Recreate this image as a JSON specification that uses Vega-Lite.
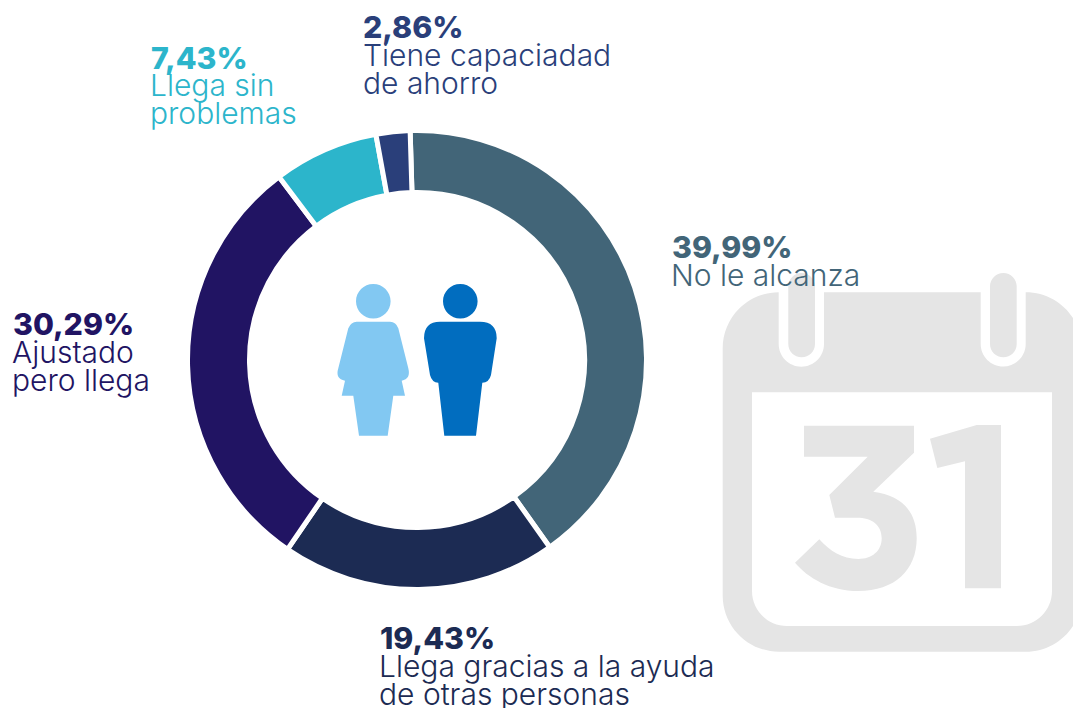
{
"$schema":"https://vega.github.io/schema/vega-lite/v6.json",
"width":1073,"height":708,"padding":0,"autosize":{"type":"none"},"background":"white",
"config":{"view":{"stroke":null},"text":{"font":"Inter","align":"left","baseline":"alphabetic","lineHeight":28,"lineBreak":"|"}},
"data":{"values":[
{"categoria":"No le alcanza","orden":1,"pct":39.99,"pct_texto":"39,99%","texto":"No le alcanza"},
{"categoria":"Llega gracias","orden":2,"pct":19.43,"pct_texto":"19,43%","texto":"Llega gracias a la ayuda|de otras personas"},
{"categoria":"Ajustado","orden":3,"pct":30.29,"pct_texto":"30,29%","texto":"Ajustado|pero llega"},
{"categoria":"Llega sin","orden":4,"pct":7.43,"pct_texto":"7,43%","texto":"Llega sin|problemas"},
{"categoria":"Tiene","orden":5,"pct":2.86,"pct_texto":"2,86%","texto":"Tiene capaciadad|de ahorro"}
]},
"encoding":{"color":{"field":"categoria","type":"nominal","legend":null,"scale":{"domain":["No le alcanza","Llega gracias","Ajustado","Llega sin","Tiene"],"range":["#426578","#1C2B53","#211463","#2CB5CB","#2A3F7A"]}}},
"layer":[
{"data":{"values":[{"icono":"calendario"}]},
 "mark":{"type":"point","filled":true,"opacity":1,"size":4,"clip":true,"shape":"M -121.3 -167.7 L -121.3 -116 A 22.65 22.65 0 0 0 -76 -116 L -76 -167.7 L 80.7 -167.7 L 80.7 -116 A 22.5 22.5 0 0 0 125.7 -116 L 125.7 -167.7 A 56.3 56.3 0 0 1 182 -111.4 L 182 135.4 A 56.3 56.3 0 0 1 125.7 191.7 L -121 191.7 A 56.3 56.3 0 0 1 -177.3 135.4 L -177.3 -111.4 A 56 56 0 0 1 -121.3 -167.7 Z M -148 -67.7 L -148 131 A 35 35 0 0 0 -113 166 L 117 166 A 35 35 0 0 0 152 131 L 152 -67.7 Z M -96 -34.3 L 14 -34.3 L 14 -7.3 L -26.7 31.7 C 0 35 16.7 50 16.7 78.3 C 16.7 110 -5 131 -41.7 131 C -70 131 -92 118 -105 102.7 L -80.7 79.3 C -70 91 -58 99 -41.7 99 C -28 99 -18.3 91 -18.3 78.3 C -18.3 65 -28 57.7 -43.3 57.7 L -65 57.7 L -70.7 35 L -32.3 -3.3 L -96 -3.3 Z M 30 -21.3 L 76.7 -35 L 101 -35 L 101 128.3 L 65 128.3 L 65 1.3 L 37.3 8 Z M -111.7 -173.7 A 13.35 13.35 0 0 1 -85 -173.7 L -85 -116 A 13.35 13.35 0 0 1 -111.7 -116 Z M 90 -173.7 A 13.35 13.35 0 0 1 116.7 -173.7 L 116.7 -116 A 13.35 13.35 0 0 1 90 -116 Z"},
 "encoding":{"x":{"datum":900,"type":"quantitative","scale":{"domain":[0,1073],"nice":false},"axis":null},"y":{"datum":460,"type":"quantitative","scale":{"domain":[708,0],"nice":false},"axis":null},"color":{"value":"#E5E5E5"}}},
{"mark":{"type":"arc","outerRadius":229.5,"innerRadius":167.5,"stroke":"white","strokeWidth":5},
 "encoding":{"theta":{"field":"pct","type":"quantitative","stack":true,"scale":{"domain":[0,39.99,97.14,100],"range":[-0.03,2.525,6.103,6.2532]}},"order":{"field":"orden","type":"quantitative"},"x":{"datum":417,"type":"quantitative"},"y":{"datum":360,"type":"quantitative"}}},
{"data":{"values":[{"icono":"mujer"}]},
 "mark":{"type":"point","filled":true,"opacity":1,"size":4,"shape":"M -17 -68.7 A 17.3 17.3 0 1 1 17.6 -68.7 A 17.3 17.3 0 1 1 -17 -68.7 Z M -16.3 -48.3 L 17 -48.3 Q 23 -48.3 25.3 -41.7 L 35.3 -1.7 Q 38 9 28.7 10.7 L 32 25.7 L 20.3 25.7 L 14.7 65.7 L -14 65.7 L -19.7 25.7 L -31.3 25.7 L -28 10.7 Q -38 9 -34.7 -1.7 L -24.7 -41.7 Q -22 -48.3 -16.3 -48.3 Z"},
 "encoding":{"x":{"datum":373,"type":"quantitative"},"y":{"datum":370,"type":"quantitative"},"color":{"value":"#82C8F2"}}},
{"data":{"values":[{"icono":"hombre"}]},
 "mark":{"type":"point","filled":true,"opacity":1,"size":4,"shape":"M -18 -68.7 A 17.3 17.3 0 1 1 16.6 -68.7 A 17.3 17.3 0 1 1 -18 -68.7 Z M -21 -48.3 L 19 -48.3 Q 35.7 -48.3 35.7 -31.7 L 30 5 Q 28 12.7 21.3 12.7 L 15 65.7 L -16.7 65.7 L -22.7 12.7 Q -29 12.7 -31 5 L -37 -31.7 Q -37 -48.3 -21 -48.3 Z"},
 "encoding":{"x":{"datum":461,"type":"quantitative"},"y":{"datum":370,"type":"quantitative"},"color":{"value":"#016DBF"}}},
{"transform":[{"filter":"datum.orden==1"}],"mark":{"type":"text","fontSize":30.3,"fontWeight":800},"encoding":{"text":{"field":"pct_texto"},"x":{"datum":672,"type":"quantitative"},"y":{"datum":258,"type":"quantitative"}}},
{"transform":[{"filter":"datum.orden==1"}],"mark":{"type":"text","fontSize":30,"fontWeight":300},"encoding":{"text":{"field":"texto"},"x":{"datum":671,"type":"quantitative"},"y":{"datum":286,"type":"quantitative"}}},
{"transform":[{"filter":"datum.orden==2"}],"mark":{"type":"text","fontSize":30.3,"fontWeight":800},"encoding":{"text":{"field":"pct_texto"},"x":{"datum":380,"type":"quantitative"},"y":{"datum":649,"type":"quantitative"}}},
{"transform":[{"filter":"datum.orden==2"}],"mark":{"type":"text","fontSize":30,"fontWeight":300},"encoding":{"text":{"field":"texto"},"x":{"datum":379,"type":"quantitative"},"y":{"datum":677,"type":"quantitative"}}},
{"transform":[{"filter":"datum.orden==3"}],"mark":{"type":"text","fontSize":30.3,"fontWeight":800},"encoding":{"text":{"field":"pct_texto"},"x":{"datum":13,"type":"quantitative"},"y":{"datum":335,"type":"quantitative"}}},
{"transform":[{"filter":"datum.orden==3"}],"mark":{"type":"text","fontSize":30,"fontWeight":300},"encoding":{"text":{"field":"texto"},"x":{"datum":12,"type":"quantitative"},"y":{"datum":363,"type":"quantitative"}}},
{"transform":[{"filter":"datum.orden==4"}],"mark":{"type":"text","fontSize":30.3,"fontWeight":800},"encoding":{"text":{"field":"pct_texto"},"x":{"datum":151,"type":"quantitative"},"y":{"datum":69,"type":"quantitative"}}},
{"transform":[{"filter":"datum.orden==4"}],"mark":{"type":"text","fontSize":30,"fontWeight":300},"encoding":{"text":{"field":"texto"},"x":{"datum":150,"type":"quantitative"},"y":{"datum":96,"type":"quantitative"}}},
{"transform":[{"filter":"datum.orden==5"}],"mark":{"type":"text","fontSize":30.3,"fontWeight":800},"encoding":{"text":{"field":"pct_texto"},"x":{"datum":363,"type":"quantitative"},"y":{"datum":38,"type":"quantitative"}}},
{"transform":[{"filter":"datum.orden==5"}],"mark":{"type":"text","fontSize":30,"fontWeight":300},"encoding":{"text":{"field":"texto"},"x":{"datum":363,"type":"quantitative"},"y":{"datum":66,"type":"quantitative"}}}
]
}
